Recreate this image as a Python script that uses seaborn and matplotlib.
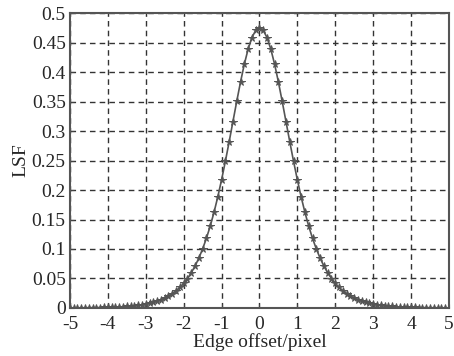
import numpy as np
import pandas as pd
import seaborn as sns
import matplotlib.pyplot as plt

# edge offsets sampled every 0.1 pixel
offset = np.linspace(-5, 5, 101)

# LSF values (left half mirrors right half)
lsf_right = [0.475, 0.4708, 0.4585, 0.4389, 0.4133, 0.3832, 0.3503, 0.3160, 0.2817, 0.2485,
             0.2172, 0.1882, 0.1620, 0.1386, 0.1180, 0.1000, 0.0844, 0.0710, 0.0596, 0.0499,
             0.0417, 0.0348, 0.0290, 0.0241, 0.0201, 0.0167, 0.0139, 0.0115, 0.0095, 0.0079,
             0.0066, 0.0054, 0.0045, 0.0037, 0.0031, 0.0026, 0.0021, 0.0018, 0.0015, 0.0012,
             0.0010, 0.0008, 0.0007, 0.0006, 0.0005, 0.0004, 0.0003, 0.0003, 0.0002, 0.0002,
             0.0002]
lsf = lsf_right[:0:-1] + lsf_right

xticks = [-5, -4, -3, -2, -1, 0, 1, 2, 3, 4, 5]
yticks = [0, 0.05, 0.1, 0.15, 0.2, 0.25, 0.3, 0.35, 0.4, 0.45, 0.5]
ytick_labels = ['0', '0.05', '0.1', '0.15', '0.2', '0.25', '0.3', '0.35', '0.4', '0.45', '0.5']

df = pd.DataFrame({'offset': offset, 'LSF': lsf})

sns.set_style('ticks')
plt.rcParams['font.family'] = ['Liberation Serif', 'DejaVu Serif']
plt.rcParams['font.size'] = 14

fig = plt.figure(figsize=(4.54, 3.56), dpi=100)
ax = fig.add_axes([0.154, 0.135, 0.835, 0.828])

sns.lineplot(data=df, x='offset', y='LSF', ax=ax, color='#555555', linewidth=1.2,
             marker='*', markersize=5.5, markeredgecolor='#555555', markeredgewidth=0.7)

ax.set_xlim(-5, 5)
ax.set_ylim(0, 0.5)
ax.set_xticks(xticks)
ax.set_xticklabels([str(t) for t in xticks])
ax.set_yticks(yticks)
ax.set_yticklabels(ytick_labels)
ax.grid(True, linestyle=(0, (4, 3)), color='#333333', linewidth=1.0)
ax.tick_params(direction='in', length=3, color='#444444', labelsize=14)
ax.tick_params(axis='x', pad=6)
ax.tick_params(axis='y', pad=3)
for s in ax.spines.values():
    s.set_visible(True)
    s.set_color('#555555')
    s.set_linewidth(1.5)

ax.set_xlabel('Edge offset/pixel', fontsize=14, labelpad=0)
ax.set_ylabel('LSF', fontsize=14, labelpad=2)

fig.savefig('out.png', dpi=100)
